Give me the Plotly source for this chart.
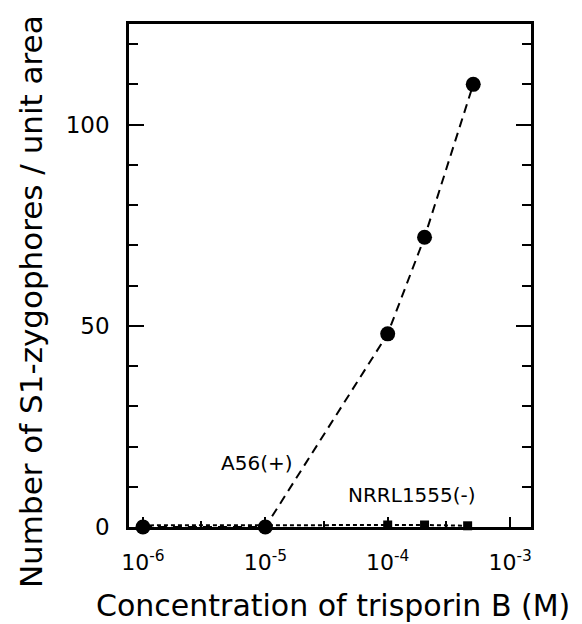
import plotly.graph_objects as go

# Data
conc_a56 = [1e-6, 1e-5, 1e-4, 2e-4, 5e-4]
zyg_a56 = [0, 0, 48, 72, 110]
conc_nrrl = [1e-6, 1e-5, 1e-4, 2e-4, 4.5e-4]
zyg_nrrl = [0.4, 0.4, 0.5, 0.5, 0.3]
x_tickvals = [1e-6, 1e-5, 1e-4, 1e-3]
x_ticktext = ["10<sup>-6</sup>", "10<sup>-5</sup>", "10<sup>-4</sup>", "10<sup>-3</sup>"]
x_minorvals = [3e-6, 3e-5, 3e-4]
y_tickvals = [0, 50, 100]
x_title = "Concentration of trisporin B (M)"
y_title = "Number of S1-zygophores / unit area"

FONT = "DejaVu Sans"

fig = go.Figure()
fig.add_trace(go.Scatter(
    x=conc_nrrl, y=zyg_nrrl, mode="lines+markers",
    line=dict(color="black", width=2, dash="4px,3px"),
    marker=dict(symbol="square", size=9, color="black"),
    cliponaxis=False, showlegend=False))
fig.add_trace(go.Scatter(
    x=conc_a56, y=zyg_a56, mode="lines+markers",
    line=dict(color="black", width=2, dash="9px,6px"),
    marker=dict(symbol="circle", size=15, color="black"),
    cliponaxis=False, showlegend=False))

fig.add_annotation(x=-5.07, y=16, text="A56(+)", showarrow=False,
                   font=dict(family=FONT, size=20, color="black"))
fig.add_annotation(x=-3.80, y=8, text="NRRL1555(-)", showarrow=False,
                   font=dict(family=FONT, size=20, color="black"))

# axis titles as annotations for exact placement
fig.add_annotation(xref="paper", yref="paper", x=0.507, y=-0.157,
                   xanchor="center", yanchor="middle", text=x_title, showarrow=False,
                   font=dict(family=FONT, size=30, color="black"))
fig.add_annotation(xref="paper", yref="paper", x=-0.244, y=0.449,
                   xanchor="center", yanchor="middle", textangle=-90, text=y_title,
                   showarrow=False, font=dict(family=FONT, size=31, color="black"))

fig.update_layout(
    width=574, height=616,
    margin=dict(l=121, r=51, t=16, b=97),
    paper_bgcolor="white", plot_bgcolor="white",
    font=dict(family=FONT, color="black"),
    xaxis=dict(
        type="log", range=[-6.114, -2.829],
        tickvals=x_tickvals, ticktext=x_ticktext,
        ticks="inside", ticklen=10, tickwidth=2, tickcolor="black",
        minor=dict(tickvals=x_minorvals, ticks="inside", ticklen=6, tickwidth=2, tickcolor="black"),
        showline=True, linecolor="black", linewidth=2.5, mirror=True,
        showgrid=False, zeroline=False,
        tickfont=dict(family=FONT, size=22),
        ticklabelstandoff=14,
    ),
    yaxis=dict(
        range=[0, 125],
        tickvals=y_tickvals,
        ticks="inside", ticklen=15, tickwidth=2, tickcolor="black",
        minor=dict(dtick=10, ticks="inside", ticklen=9, tickwidth=2, tickcolor="black"),
        showline=True, linecolor="black", linewidth=2.5, mirror="ticks",
        showgrid=False, zeroline=False,
        tickfont=dict(family=FONT, size=23),
        ticklabelstandoff=12,
    ),
)

fig.write_html("out.html")
